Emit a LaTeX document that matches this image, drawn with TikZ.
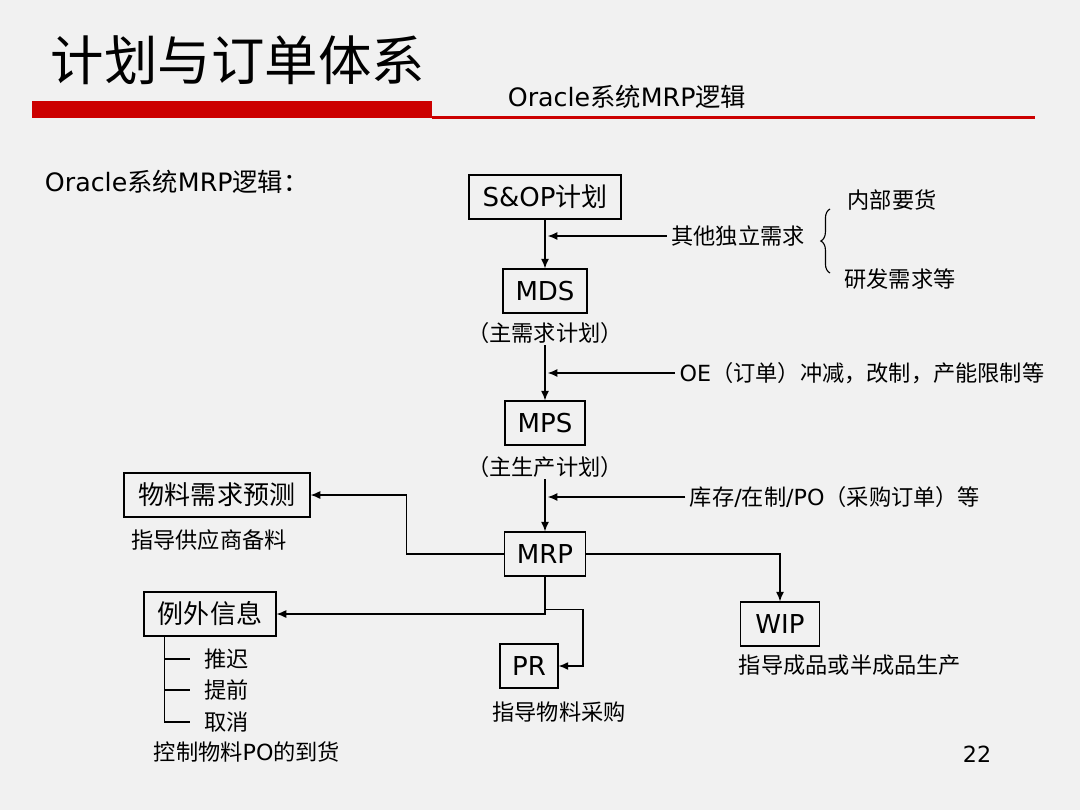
\documentclass[tikz,border=0pt]{standalone}
\usepackage{fontspec}
\setmainfont{Noto Sans CJK SC}
\newfontfamily\verd{DejaVu Sans}
\newcommand{\ltn}[1]{{\verd #1}}
\usetikzlibrary{arrows.meta,calc,decorations.pathreplacing}
\definecolor{slidebg}{RGB}{241,241,241}
\definecolor{barred}{RGB}{204,0,0}

\tikzset{
  box/.style={draw, line width=0.9pt, minimum height=1.1cm, inner sep=2pt, font=\fontsize{18.5}{20}\selectfont},
  lbl/.style={inner sep=1pt, font=\fontsize{15.8}{18}\selectfont},
  link/.style={->, line width=0.8pt},
  feed/.style={link, shorten <=2pt, shorten >=2pt},
}

\begin{document}
\begin{tikzpicture}[x=0.025cm, y=-0.025cm, >={Latex[length=2.4mm,width=2mm]}]
    % 背景
    \fill[slidebg] (0,0) rectangle (1080,810);
    \useasboundingbox (0,0) rectangle (1080,810);

    % 标题与红色横条
    \node[font=\fontsize{38}{40}\selectfont] (title) at (238,60) {计划与订单体系};
    \fill[barred] (32,101) rectangle (432,118);
    \fill[barred] (432,115.5) rectangle (1035,119);
    \node[font=\fontsize{18}{20}\selectfont] (subtitle) at (627,97) {\ltn{Oracle}系统\ltn{MRP}逻辑};
    \node[font=\fontsize{18}{20}\selectfont, anchor=west] (intro) at (40,182) {\ltn{Oracle}系统\ltn{MRP}逻辑：};

    % 主干计划
    \node[box, minimum width=3.8cm] (sop) at (545,197) {\ltn{S\&OP}计划};
    \node[box, minimum width=2.1cm] (mds) at (545,291) {\ltn{MDS}};
    \node[lbl] (mdsnote) at (545,333) {（主需求计划）};
    \node[box, minimum width=2cm] (mps) at (545,423) {\ltn{MPS}};
    \node[lbl] (mpsnote) at (545,467) {（主生产计划）};
    \node[box, minimum width=2.03cm] (mrp) at (545,554) {\ltn{MRP}};

    % 输出
    \node[box, minimum width=4.65cm] (forecast) at (217,495) {物料需求预测};
    \node[lbl] (fcnote) at (209,540) {指导供应商备料};
    \node[box, minimum width=3.3cm] (exc) at (210,614) {例外信息};
    \node[box, minimum width=1.45cm] (pr) at (529,666) {\ltn{PR}};
    \node[lbl] (prnote) at (559,712) {指导物料采购};
    \node[box, minimum width=1.98cm] (wip) at (780,624) {\ltn{WIP}};
    \node[lbl] (wipnote) at (850,665) {指导成品或半成品生产};

    % 输入说明
    \node[lbl] (other) at (738,236) {其他独立需求};
    \node[lbl] (inner) at (892,200) {内部要货};
    \node[lbl] (rnd) at (900,279) {研发需求等};
    \draw[decorate, decoration={brace, amplitude=6.5pt}, line width=0.8pt] (830,273) -- (830,209);
    \node[lbl] (oe) at (862,373) {\ltn{OE}（订单）冲减，改制，产能限制等};
    \node[lbl] (stock) at (835,497) {库存\ltn{/}在制\ltn{/PO}（采购订单）等};

    % 例外信息分支
    \node[lbl, anchor=west] (delay) at (203,659) {推迟};
    \node[lbl, anchor=west] (advance) at (203,690) {提前};
    \node[lbl, anchor=west] (cancel) at (203,722) {取消};
    \node[lbl] (ctl) at (247,752) {控制物料\ltn{PO}的到货};
    \node[lbl] (pageno) at (977,754) {\ltn{22}};

    % 连线
    \draw[link] (sop) -- (mds);
    \draw[feed] (other) -- (other -| sop.south);
    \draw[link] (mdsnote) -- (mps);
    \draw[feed] (oe) -- (oe -| mps.north);
    \draw[link] (mpsnote) -- (mrp);
    \draw[feed] (stock) -- (stock -| mrp.north);
    \draw[link] (mrp.west) -- ++(-97,0) |- (forecast.east);
    \draw[link] (mrp.south) |- (exc.east);
    \coordinate (split) at ($(mrp.south)+(0,33)$);
    \draw[link] (split) -- ++(38,0) |- (pr.east);
    \draw[link] (mrp.east) -| (wip.north);

    \coordinate (trunk) at ($(exc.south west)+(21,0)$);
    \draw[line width=0.8pt] (trunk) |- ($(cancel.west)+(-13,0)$);
    \foreach \n in {delay,advance}
        \draw[line width=0.8pt] (trunk |- \n.west) -- ($(\n.west)+(-13,0)$);
\end{tikzpicture}
\end{document}
